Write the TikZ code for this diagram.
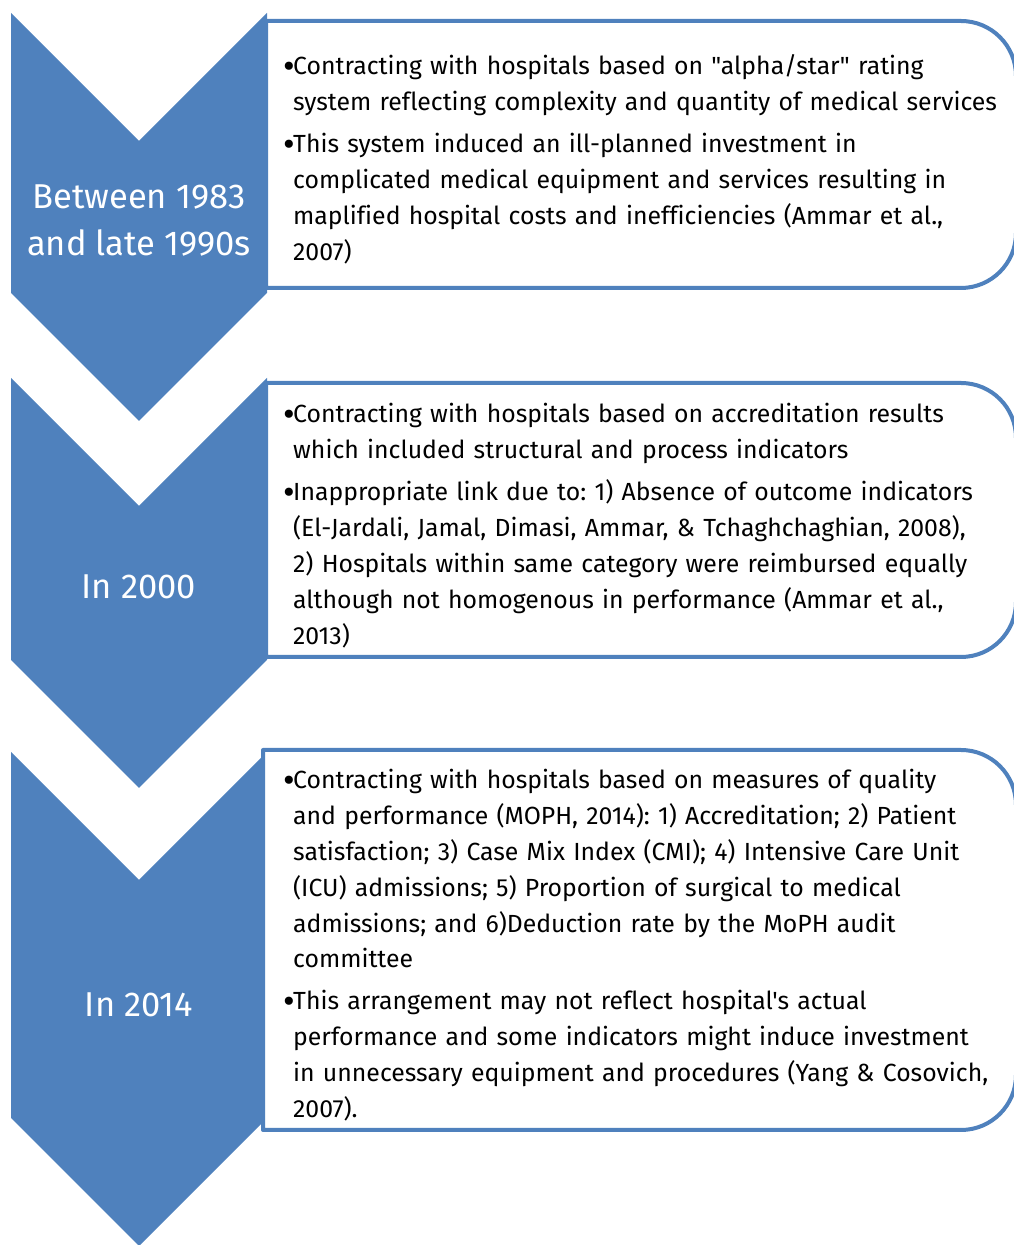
\documentclass[tikz,border=0pt]{standalone}
\usepackage{fontspec}
\setmainfont[Ligatures={NoCommon,TeXOff}]{Fira Sans}
\definecolor{accent}{HTML}{4F81BD}
\frenchspacing
\begin{document}
\begin{tikzpicture}[x=1pt,y=1pt,
  chev/.style={fill=accent,draw=none},
  infobox/.style={draw=accent,line width=4pt,fill=white,line join=round},
  yearlabel/.style={text=white,font=\fontsize{34.5}{47}\selectfont,align=center},
  itemtext/.style={anchor=base west,inner sep=0pt,text width=800pt,align=left,
    font=\fontsize{24.8}{35.8}\selectfont}]
\useasboundingbox (0,0) rectangle (1013,1245);
\newcommand{\bul}{\makebox[10pt][l]{\raisebox{-0.13em}{\scalebox{1.45}{\textbullet}}}}
\newcommand{\ind}{\hspace*{10pt}}
% chevrons
\path[chev] (11,1232) -- (139,1104) -- (267,1232) -- (267,952) -- (139,824) -- (11,952) -- cycle;
\path[chev] (11,867) -- (139,739) -- (267,867) -- (267,585) -- (139,457) -- (11,585) -- cycle;
\path[chev] (11,493) -- (139,365) -- (267,493) -- (267,127) -- (139,-1) -- (11,127) -- cycle;
% boxes with rounded right corners
\draw[infobox] (266,1224) -- (961,1224) arc[start angle=90,end angle=0,radius=55] -- (1016,1012) arc[start angle=0,end angle=-90,radius=55] -- (266,957) -- cycle;
\draw[infobox] (266,862) -- (961,862) arc[start angle=90,end angle=0,radius=55] -- (1016,643) arc[start angle=0,end angle=-90,radius=55] -- (266,588) -- cycle;
\draw[infobox] (263,495) -- (961,495) arc[start angle=90,end angle=0,radius=55] -- (1016,170) arc[start angle=0,end angle=-90,radius=55] -- (263,115) -- cycle;
% year labels
\node[yearlabel] (l1) at (139,1024) {Between 1983\\and late 1990s};
\node[yearlabel] (l2) at (139,658) {In 2000};
\node[yearlabel] (l3) at (139,240) {In 2014};
% items
\node[itemtext] (a1) at (283,1170) {\bul Contracting with hospitals based on "alpha/star" rating\\\ind system reflecting complexity and quantity of medical services};
\node[itemtext] (a2) at (283,1092) {\bul This system induced an ill-planned investment in\\\ind complicated medical equipment and services resulting in\\\ind maplified hospital costs and inefficiencies (Ammar et al.,\\\ind 2007)};
\node[itemtext] (b1) at (283,822) {\bul Contracting with hospitals based on accreditation results\\\ind which included structural and process indicators};
\node[itemtext] (b2) at (283,744) {\bul Inappropriate link due to: 1) Absence of outcome indicators\\\ind (El-Jardali, Jamal, Dimasi, Ammar, \& Tchaghchaghian, 2008),\\\ind 2) Hospitals within same category were reimbursed equally\\\ind although not homogenous in performance (Ammar et al.,\\\ind 2013)};
\node[itemtext] (c1) at (283,456) {\bul Contracting with hospitals based on measures of quality\\\ind and performance (MOPH, 2014): 1) Accreditation; 2) Patient\\\ind satisfaction; 3) Case Mix Index (CMI); 4) Intensive Care Unit\\\ind (ICU) admissions; 5) Proportion of surgical to medical\\\ind admissions; and 6)Deduction rate by the MoPH audit\\\ind committee};
\node[itemtext] (c2) at (283,235) {\bul This arrangement may not reflect hospital's actual\\\ind performance and some indicators might induce investment\\\ind in unnecessary equipment and procedures (Yang \& Cosovich,\\\ind 2007).};
\end{tikzpicture}
\end{document}
